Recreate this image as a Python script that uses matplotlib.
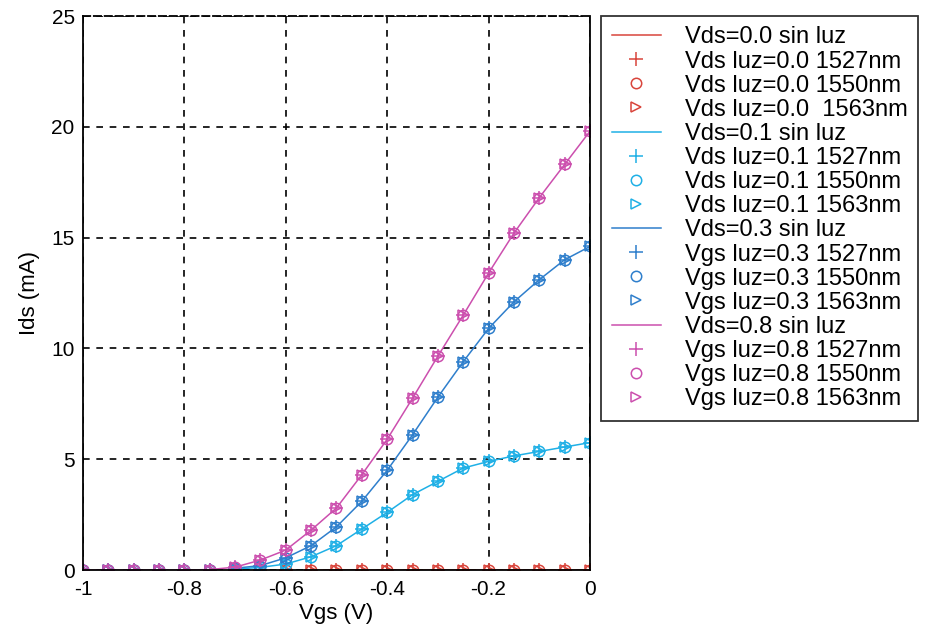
import matplotlib.pyplot as plt
import numpy as np

plt.rcParams['font.family'] = ['Liberation Sans', 'DejaVu Sans']

# Vgs sweep (V)
vgs = [-1.0, -0.95, -0.9, -0.85, -0.8, -0.75, -0.7, -0.65, -0.6, -0.55, -0.5,
       -0.45, -0.4, -0.35, -0.3, -0.25, -0.2, -0.15, -0.1, -0.05, 0.0]

# Ids (mA) for each Vds
ids_00 = [0.0] * 21
ids_01 = [0.0, 0.0, 0.0, 0.0, 0.0, 0.0, 0.04, 0.12, 0.27, 0.6, 1.1,
          1.85, 2.6, 3.4, 4.0, 4.6, 4.9, 5.15, 5.35, 5.55, 5.75]
ids_03 = [0.0, 0.0, 0.0, 0.0, 0.0, 0.0, 0.08, 0.2, 0.55, 1.1, 1.95,
          3.1, 4.5, 6.1, 7.8, 9.4, 10.9, 12.1, 13.1, 14.0, 14.6]
ids_08 = [0.0, 0.0, 0.0, 0.0, 0.0, 0.02, 0.13, 0.45, 0.9, 1.8, 2.8,
          4.3, 5.9, 7.75, 9.65, 11.5, 13.4, 15.2, 16.8, 18.3, 19.8]

vds_labels = ["0.0", "0.1", "0.3", "0.8"]
light_prefix = ["Vds", "Vds", "Vgs", "Vgs"]
colors = ['#d9453c', '#1fb0e6', '#2f7fcc', '#cc4fae']
line_start = [-0.55, -0.7, -0.7, -1.0]
all_ids = [ids_00, ids_01, ids_03, ids_08]

fig = plt.figure(figsize=(9.26, 6.3), dpi=100)
ax = fig.add_axes([0.0896, 0.0952, 0.5475, 0.8794])

x = np.array(vgs)
for vds, pref, ids, color, xstart in zip(vds_labels, light_prefix, all_ids, colors, line_start):
    y = np.array(ids)
    m = x >= xstart - 1e-9
    ax.plot(x[m], y[m], '-', color=color, lw=1.1, label="Vds=%s sin luz" % vds)
    ax.plot(x, y, '+', color=color, ms=10, mew=1.1, linestyle='none',
            label="%s luz=%s 1527nm" % (pref, vds))
    ax.plot(x, y, 'o', color=color, mfc='none', ms=7.5, mew=1.1, linestyle='none',
            label="%s luz=%s 1550nm" % (pref, vds))
    sep = "  " if vds == "0.0" else " "
    ax.plot(x, y, '>', color=color, mfc='none', ms=7.5, mew=1.1, linestyle='none',
            label="%s luz=%s%s1563nm" % (pref, vds, sep))

ax.set_xlim(-1, 0)
ax.set_ylim(0, 25)
ax.set_xticks([-1, -0.8, -0.6, -0.4, -0.2, 0])
ax.set_xticklabels(['-1', '-0.8', '-0.6', '-0.4', '-0.2', '0'])
ax.set_yticks([0, 5, 10, 15, 20, 25])
ax.tick_params(direction='in', length=0, labelsize=15)
ax.tick_params(axis='x', pad=7)
ax.tick_params(axis='y', pad=6)
ax.grid(True, color='black', linestyle=(0, (4, 4)), linewidth=1.2)
for s in ax.spines.values():
    s.set_linewidth(1.3)
ax.spines['top'].set_linestyle((0, (4, 2)))
ax.set_xlabel('Vgs (V)', fontsize=16, labelpad=3)
ax.set_ylabel('Ids (mA)', fontsize=16, labelpad=8)

leg = fig.legend(loc='upper left', bbox_to_anchor=(0.649, 0.975), fontsize=17,
                 frameon=True, fancybox=False, edgecolor='black', labelspacing=0.09,
                 handlelength=2.1, handletextpad=1.0, borderpad=0.45, borderaxespad=0)
leg.get_frame().set_linewidth(1.3)

fig.savefig('out.png', dpi=100)
